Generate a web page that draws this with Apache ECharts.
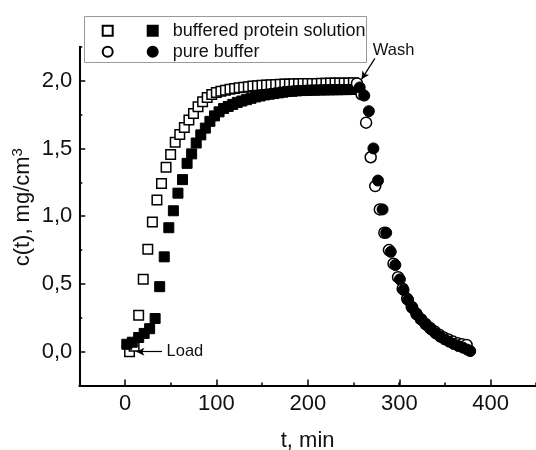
<!DOCTYPE html>
<html><head><meta charset="utf-8">
<script src="https://cdn.jsdelivr.net/npm/echarts@6/dist/echarts.min.js"></script>
<style>html,body{margin:0;padding:0;background:#fff}#c{width:536px;height:450px}</style>
</head><body><div id="c"></div>
<script>
// ---- data (t in min, c in mg/cm3) ----
const protOpenT = [5,10,15,20,25,30,35,40,45,50,55,60,65,70,75,80,85,90,95,100,105,110,115,120,125,130,135,140,145,150,155,160,165,170,175,180,185,190,195,200,205,210,215,220,225,230,235,240,245,250];
const protOpenC = [0.00,0.04,0.27,0.535,0.756,0.958,1.12,1.242,1.362,1.455,1.545,1.603,1.655,1.709,1.758,1.807,1.844,1.876,1.898,1.912,1.922,1.930,1.937,1.943,1.948,1.952,1.956,1.960,1.963,1.966,1.968,1.970,1.972,1.974,1.975,1.976,1.977,1.978,1.979,1.979,1.980,1.980,1.981,1.981,1.982,1.982,1.983,1.983,1.983,1.984];
const protFillT = [2,8,15,21,27,33,38,43,48,53,58,63,68,73,78,83,88,93,98,103,108,113,118,123,128,133,138,143,148,153,158,163,168,173,178,183,188,193,198,203,208,213,218,223,228,233,238,243,248,253];
const protFillC = [0.055,0.07,0.105,0.135,0.17,0.245,0.48,0.70,0.915,1.04,1.17,1.27,1.39,1.46,1.54,1.60,1.65,1.70,1.74,1.77,1.795,1.81,1.825,1.84,1.85,1.86,1.87,1.88,1.887,1.895,1.90,1.905,1.91,1.915,1.92,1.922,1.925,1.927,1.928,1.93,1.93,1.931,1.932,1.932,1.933,1.933,1.934,1.934,1.935,1.935];
const bufOpenT = [254,259,264,269,274,279,284,289,294,299,304,309,314,319,324,329,334,339,344,349,354,359,364,369,374];
const bufOpenC = [1.98,1.90,1.69,1.435,1.222,1.05,0.878,0.75,0.65,0.55,0.465,0.39,0.33,0.28,0.24,0.205,0.175,0.15,0.125,0.105,0.09,0.075,0.063,0.055,0.05];
const bufFillT = [257,262,267,272,277,282,286,291,296,301,305,310,315,320,325,330,335,340,345,350,355,360,365,370,375,378];
const bufFillC = [1.95,1.89,1.775,1.50,1.263,1.05,0.878,0.737,0.64,0.534,0.455,0.381,0.32,0.271,0.234,0.197,0.165,0.136,0.111,0.091,0.074,0.057,0.042,0.03,0.015,0.005];
const xTicks = [0,100,200,300,400];
const yTicks = [0,0.5,1.0,1.5,2.0];
const seriesNames = ['buffered protein solution','pure buffer'];

const pairs = (ts, cs) => ts.map((t, i) => [t, cs[i]]);
const FONT = 'Arial, "Liberation Sans", sans-serif';
const INK = '#111';

const chart = echarts.init(document.getElementById('c'), null, {renderer: 'canvas'});
const openStyle = {color: '#fff', borderColor: '#000', borderWidth: 1.5, opacity: 1};
const fillStyle = {color: '#000', borderColor: '#000', borderWidth: 1, opacity: 1};

chart.setOption({
  animation: false,
  backgroundColor: '#fff',
  textStyle: {fontFamily: FONT},
  grid: [
    {left: 79.3, right: 0, top: 46.8, bottom: 64.4, containLabel: false, outerBoundsMode: 'none'},
    {left: 125, right: 45.3, top: 80.7, bottom: 98.3, containLabel: false, outerBoundsMode: 'none'}
  ],
  xAxis: [
    {type: 'value', gridIndex: 0, min: -50, max: 450, interval: 50,
     axisLine: {show: true, onZero: false, lineStyle: {color: '#000', width: 2}},
     axisTick: {show: true, inside: true, length: 3, lineStyle: {color: '#000', width: 1.5}},
     axisLabel: {show: false}, splitLine: {show: false},
     name: 't, min', nameLocation: 'middle', nameGap: 44,
     nameTextStyle: {fontSize: 22, color: INK, fontFamily: FONT}},
    {type: 'value', gridIndex: 1, min: xTicks[0], max: xTicks[xTicks.length-1], interval: xTicks[1]-xTicks[0],
     offset: 33.9,
     axisLine: {show: false, onZero: false},
     axisTick: {show: true, inside: true, length: 6, lineStyle: {color: '#000', width: 1.5}},
     axisLabel: {show: true, fontSize: 22, color: INK, margin: 7, fontFamily: FONT},
     splitLine: {show: false}}
  ],
  yAxis: [
    {type: 'value', gridIndex: 0, min: -0.25, max: 2.25, interval: 0.25,
     axisLine: {show: true, onZero: false, lineStyle: {color: '#000', width: 2}},
     axisTick: {show: true, inside: true, length: 3, lineStyle: {color: '#000', width: 1.5}},
     axisLabel: {show: false}, splitLine: {show: false},
     name: 'c(t), mg/cm{s|3}', nameLocation: 'middle', nameGap: 44,
     nameTextStyle: {fontSize: 22, color: INK, fontFamily: FONT, padding: [0, 0, 0, 18],
       rich: {s: {fontSize: 15, color: INK, fontFamily: FONT, verticalAlign: 'top', padding: [0,0,10,0]}}}},
    {type: 'value', gridIndex: 1, min: yTicks[0], max: yTicks[yTicks.length-1], interval: yTicks[1]-yTicks[0],
     offset: 45.7,
     axisLine: {show: false, onZero: false},
     axisTick: {show: true, inside: true, length: 6, lineStyle: {color: '#000', width: 1.5}},
     axisLabel: {show: true, fontSize: 22, color: INK, margin: 7, fontFamily: FONT,
       formatter: v => v.toFixed(1).replace('.', ',')},
     splitLine: {show: false}}
  ],
  legend: [
    {orient: 'vertical', left: 101.7, top: 20.3, padding: 0, itemGap: 0,
     itemWidth: 10, itemHeight: 10,
     data: [seriesNames[0] + ' (open)', seriesNames[1] + ' (open)'],
     formatter: () => ' ',
     textStyle: {fontSize: 18, lineHeight: 21, color: INK, fontFamily: FONT},
     selectedMode: false},
    {orient: 'vertical', left: 146.7, top: 20.3, padding: 0, itemGap: 0,
     itemWidth: 10, itemHeight: 10,
     data: seriesNames,
     textStyle: {fontSize: 18, lineHeight: 21, color: INK, fontFamily: FONT, padding: [0,0,0,10]},
     selectedMode: false}
  ],
  graphic: [
    {type: 'rect', z: 0, shape: {x: 84.5, y: 16.5, width: 282, height: 46},
     style: {fill: '#fff', stroke: '#9a9a9a', lineWidth: 1}}
  ],
  series: [
    {name: seriesNames[0] + ' (open)', type: 'scatter', xAxisIndex: 0, yAxisIndex: 0,
     symbol: 'rect', symbolSize: 9.5, itemStyle: openStyle,
     data: pairs(protOpenT, protOpenC),
     markLine: {silent: true, symbol: ['none', 'arrow'], symbolSize: [6, 8],
       lineStyle: {color: '#000', width: 1.2, type: 'solid'}, label: {show: false},
       data: [
         [{coord: [40.5, 0]}, {coord: [12.5, 0]}],
         [{coord: [273.6, 2.165]}, {coord: [259, 2.01]}]
       ]},
     markPoint: {silent: true, symbol: 'circle', symbolSize: 0,
       label: {show: true, position: 'right', distance: 0, fontSize: 16.5, color: INK, fontFamily: FONT},
       data: [
         {coord: [45.5, 0], value: 'Load', label: {formatter: 'Load'}},
         {coord: [271.3, 2.221], value: 'Wash', label: {formatter: 'Wash'}}
       ]}},
    {name: seriesNames[0], type: 'scatter', xAxisIndex: 0, yAxisIndex: 0,
     symbol: 'rect', symbolSize: 10, itemStyle: fillStyle,
     data: pairs(protFillT, protFillC)},
    {name: seriesNames[1] + ' (open)', type: 'scatter', xAxisIndex: 0, yAxisIndex: 0,
     symbol: 'circle', symbolSize: 11, itemStyle: openStyle,
     data: pairs(bufOpenT, bufOpenC)},
    {name: seriesNames[1], type: 'scatter', xAxisIndex: 0, yAxisIndex: 0,
     symbol: 'circle', symbolSize: 11, itemStyle: fillStyle,
     data: pairs(bufFillT, bufFillC)}
  ]
});
</script>
</body></html>
